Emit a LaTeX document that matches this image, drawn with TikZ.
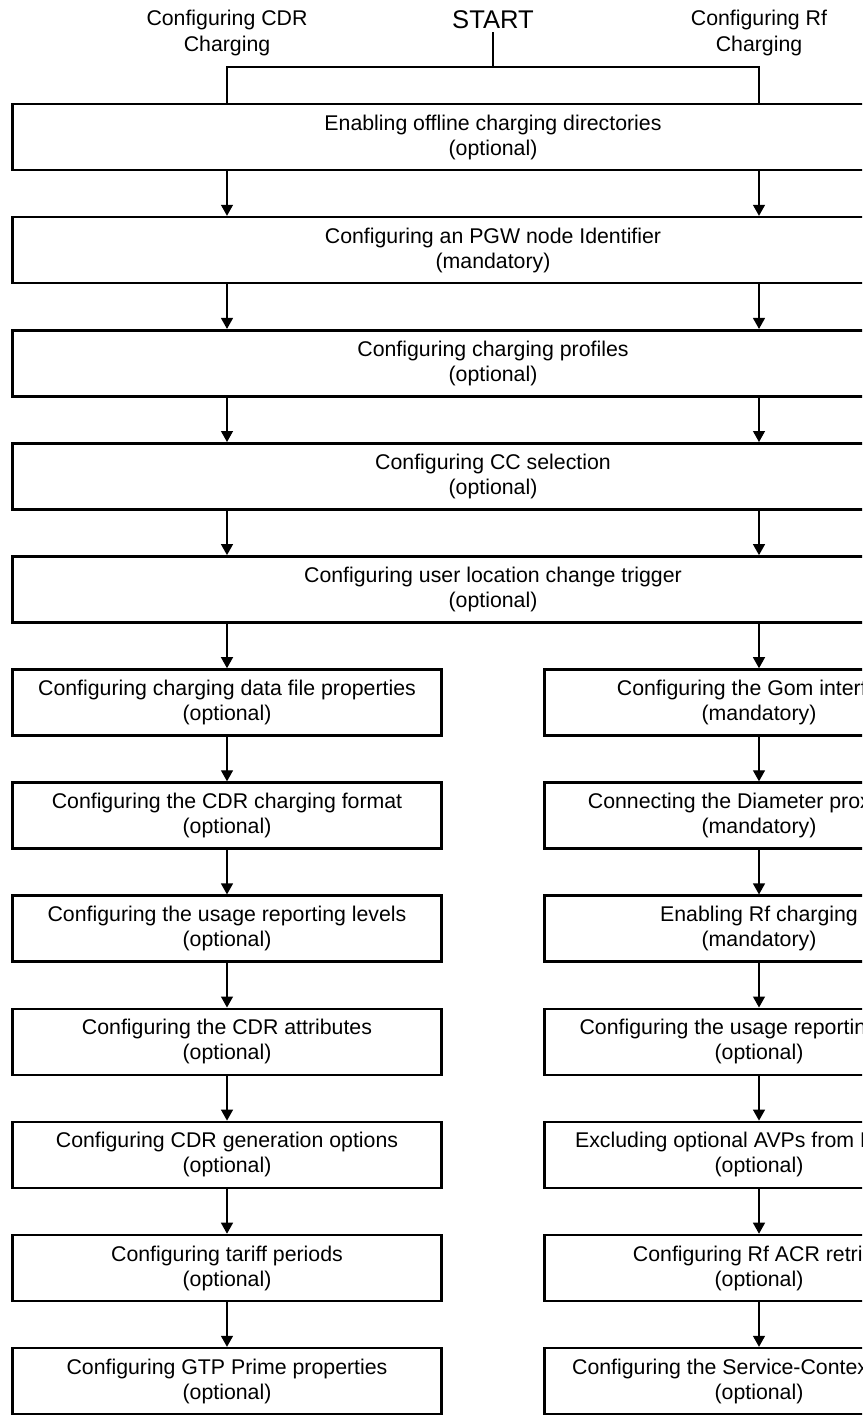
\documentclass[tikz,border=0pt]{standalone}
\usepackage{fontspec}
\setmainfont{Liberation Sans}
\usetikzlibrary{positioning,arrows.meta}

\begin{document}
\begin{tikzpicture}[x=1pt, y=-1pt, >={Triangle[length=11pt,width=12pt]}, line width=1.3pt, node distance=113.1pt,
  task/.style={draw, line width=2.6pt, align=center, minimum height=66pt, font=\fontsize{21.3}{25}\selectfont},
  wide/.style={task, minimum width=961pt},
  col/.style={task, minimum width=429pt}]
\useasboundingbox (0,0) rectangle (862,1416);
\clip (0,0) rectangle (862,1416);
\node[anchor=base, font=\fontsize{25.6}{30}\selectfont] (start) at (493,28) {START};
\node[align=center, font=\fontsize{21.3}{26}\selectfont] (cdrlabel) at (227,33) {Configuring CDR\\Charging};
\node[align=center, font=\fontsize{21.3}{26}\selectfont] (rflabel) at (759,33) {Configuring Rf\\Charging};
\coordinate (split) at (493,67);
\node[wide] (dirs) at (493,137) {Enabling offline charging directories\\(optional)};
\node[wide, below of=dirs] (nodeid) {Configuring an PGW node Identifier\\(mandatory)};
\node[wide, below of=nodeid] (profiles) {Configuring charging profiles\\(optional)};
\node[wide, below of=profiles] (ccsel) {Configuring CC selection\\(optional)};
\node[wide, below of=ccsel] (trigger) {Configuring user location change trigger\\(optional)};
% CDR charging branch
\node[col, below of=trigger, xshift=-266pt] (datafile) {Configuring charging data file properties\\(optional)};
\node[col, below of=datafile] (cdrformat) {Configuring the CDR charging format\\(optional)};
\node[col, below of=cdrformat] (levels) {Configuring the usage reporting levels\\(optional)};
\node[col, below of=levels] (attrs) {Configuring the CDR attributes\\(optional)};
\node[col, below of=attrs] (genopts) {Configuring CDR generation options\\(optional)};
\node[col, below of=genopts] (tariff) {Configuring tariff periods\\(optional)};
\node[col, below of=tariff] (gtpprime) {Configuring GTP Prime properties\\(optional)};
% Rf charging branch
\node[col, below of=trigger, xshift=266pt] (gom) {Configuring the Gom interface\\(mandatory)};
\node[col, below of=gom] (diameter) {Connecting the Diameter proxy peer\\(mandatory)};
\node[col, below of=diameter] (rfenable) {Enabling Rf charging\\(mandatory)};
\node[col, below of=rfenable] (rflevels) {Configuring the usage reporting levels\\(optional)};
\node[col, below of=rflevels] (avps) {Excluding optional AVPs from Rf ACRs\\(optional)};
\node[col, below of=avps] (retries) {Configuring Rf ACR retries\\(optional)};
\node[col, below of=retries] (context) {Configuring the Service-Context-Id AVP\\(optional)};
\draw (start) -- (split);
\draw (dirs.north -| datafile) |- (split) -| (dirs.north -| gom);
\draw[->] (dirs.south -| datafile) -- (nodeid.north -| datafile);
\draw[->] (dirs.south -| gom) -- (nodeid.north -| gom);
\draw[->] (nodeid.south -| datafile) -- (profiles.north -| datafile);
\draw[->] (nodeid.south -| gom) -- (profiles.north -| gom);
\draw[->] (profiles.south -| datafile) -- (ccsel.north -| datafile);
\draw[->] (profiles.south -| gom) -- (ccsel.north -| gom);
\draw[->] (ccsel.south -| datafile) -- (trigger.north -| datafile);
\draw[->] (ccsel.south -| gom) -- (trigger.north -| gom);
\draw[->] (trigger.south -| datafile) -- (datafile);
\draw[->] (trigger.south -| gom) -- (gom);
\draw[->] (datafile) -- (cdrformat);
\draw[->] (cdrformat) -- (levels);
\draw[->] (levels) -- (attrs);
\draw[->] (attrs) -- (genopts);
\draw[->] (genopts) -- (tariff);
\draw[->] (tariff) -- (gtpprime);
\draw[->] (gom) -- (diameter);
\draw[->] (diameter) -- (rfenable);
\draw[->] (rfenable) -- (rflevels);
\draw[->] (rflevels) -- (avps);
\draw[->] (avps) -- (retries);
\draw[->] (retries) -- (context);
\end{tikzpicture}
\end{document}
